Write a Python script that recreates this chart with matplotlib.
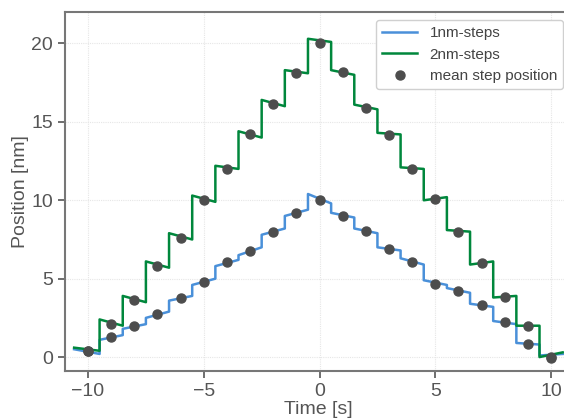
import matplotlib
matplotlib.use("Agg")
import matplotlib.pyplot as plt
import numpy as np

plt.rcParams["font.family"] = ["Liberation Sans", "DejaVu Sans"]

# plateau centres [s]
centres = [-10, -9, -8, -7, -6, -5, -4, -3, -2, -1, 0,
           1, 2, 3, 4, 5, 6, 7, 8, 9, 10]
t_start, t_end = -10.6, 10.5

# 1nm trace: level at start / end of each plateau [nm]
one_start = [0.5, 1.1, 1.8, 2.5, 3.6, 4.6, 5.8, 6.5, 7.8, 9.0, 10.4,
             9.2, 8.2, 7.0, 6.3, 4.9, 4.4, 3.4, 2.3, 0.9, 0.1]
one_end = [0.2, 1.4, 2.1, 2.9, 3.9, 5.0, 6.2, 7.0, 8.2, 9.4, 9.8,
           8.9, 7.9, 6.8, 5.9, 4.6, 4.1, 3.2, 2.1, 0.8, 0.2]

# 2nm trace
two_start = [0.6, 2.4, 3.9, 6.1, 7.9, 10.3, 12.2, 14.4, 16.4, 18.3, 20.3,
             18.3, 16.1, 14.3, 12.1, 10.0, 8.1, 5.9, 3.8, 2.0, 0.0]
two_end = [0.4, 2.0, 3.5, 5.7, 7.5, 9.9, 12.0, 14.0, 16.0, 18.1, 20.1,
           18.0, 15.8, 14.2, 12.0, 10.2, 8.0, 6.1, 3.9, 2.0, 0.3]

# mean step positions
mean_t_one = [-10, -9, -8, -7, -6, -5, -4, -3, -2, -1, 0,
              1, 2, 3, 4, 5, 6, 7, 8, 9, 10]
mean_one = [0.4, 1.29, 2.0, 2.72, 3.78, 4.8, 6.05, 6.75, 7.98, 9.22, 10.04,
            9.0, 8.02, 6.88, 6.05, 4.69, 4.22, 3.31, 2.21, 0.83, 0.0]
mean_t_two = [-10, -9, -8, -7, -6, -5, -4, -3, -2, -1, 0,
              1, 2, 3, 4, 5, 6, 7, 8, 9, 10]
mean_two = [0.4, 2.1, 3.63, 5.8, 7.6, 10.02, 12.0, 14.2, 16.16, 18.14, 20.0,
            18.16, 15.87, 14.18, 11.97, 10.1, 7.98, 5.97, 3.84, 1.97, -0.04]


def build_trace(starts, ends):
    xs, ys = [], []
    for i, c in enumerate(centres):
        left = t_start if i == 0 else c - 0.5
        right = t_end if i == len(centres) - 1 else c + 0.5
        xs += [left, right]
        ys += [starts[i], ends[i]]
    return np.array(xs), np.array(ys)


x1, y1 = build_trace(one_start, one_end)
x2, y2 = build_trace(two_start, two_end)

fig = plt.figure(figsize=(5.64, 4.18), dpi=100)
# axes run a little past the right edge, like the cropped original
ax = fig.add_axes([0.115, 0.112, 0.897, 0.859])

ax.plot(x1, y1, color="#4a90d9", lw=1.8, label="1nm-steps")
ax.plot(x2, y2, color="#00873c", lw=1.8, label="2nm-steps")
ax.plot(mean_t_one + mean_t_two, mean_one + mean_two, "o", color="#4d4d4d",
        ms=6.5, label="mean step position")

ax.set_xlim(-11, 10.85)
ax.set_ylim(-0.9, 22.0)
ax.set_xticks([-10, -5, 0, 5, 10])
ax.set_yticks([0, 5, 10, 15, 20])
ax.set_xlabel("Time [s]", fontsize=14, color="#555555", labelpad=0.5)
ax.set_ylabel("Position [nm]", fontsize=14, color="#555555", labelpad=2)
ax.tick_params(labelsize=14, colors="#555555", length=5, width=1.2, direction="out")
ax.grid(True, color="#e6e6e6", lw=0.8, ls=(0, (1, 1)))
for s in ax.spines.values():
    s.set_color("#777777")
    s.set_linewidth(1.5)

leg = ax.legend(loc="upper right", fontsize=11, handlelength=2.3,
                framealpha=1, edgecolor="#d0d0d0", fancybox=True)
for t in leg.get_texts():
    t.set_color("#444444")

fig.savefig("out.png", dpi=100)
